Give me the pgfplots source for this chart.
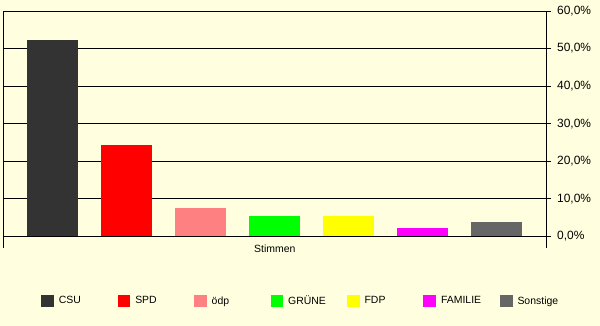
\documentclass[border=0pt]{standalone}
\usepackage{fontspec}
\setmainfont{Liberation Sans}
\usepackage{pgfplots}
\pgfplotsset{compat=1.18}
\definecolor{bg}{HTML}{FFFFE0}
\definecolor{cCSU}{HTML}{333333}
\definecolor{cSPD}{HTML}{FF0000}
\definecolor{cODP}{HTML}{FF8080}
\definecolor{cGRU}{HTML}{00FF00}
\definecolor{cFDP}{HTML}{FFFF00}
\definecolor{cFAM}{HTML}{FF00FF}
\definecolor{cSON}{HTML}{666666}
\newcommand{\lb}[1]{\makebox[58.85bp][l]{#1}}
\begin{document}
\begin{tikzpicture}
\path[use as bounding box, fill=bg] (-3.5bp,-78.5bp) rectangle (596.5bp,247.5bp);
\begin{axis}[
  scale only axis, width=542.5bp, height=236.5bp,
  xmin=-0.6622, xmax=6.6689, ymin=-3, ymax=60,
  separate axis lines,
  x axis line style={draw=none},
  y axis line style={black, line width=1bp},
  xtick=\empty,
  ytick={0,10,20,30,40,50,60},
  yticklabels={{0,0\%},{10,0\%},{20,0\%},{30,0\%},{40,0\%},{50,0\%},{60,0\%}},
  ytick pos=right,
  tick align=outside, major tick length=5bp,
  every tick/.style={black, line width=1bp},
  ymajorgrids, grid style={black, line width=1bp},
  yticklabel style={font=\fontsize{12}{13}\selectfont, anchor=west, inner sep=0pt, xshift=6bp},
  /pgf/number format/assume math mode=true,
  ybar, bar width=51bp, bar shift=0pt,
  xlabel={Stimmen},
  xlabel style={at={(axis description cs:0.5,-0.022)}, anchor=base, font=\fontsize{10.5}{12}\selectfont, inner sep=0pt},
  legend columns=7,
  legend image code/.code={\fill[#1] (0bp,-6.3bp) rectangle (12.6bp,6.3bp);},
  legend style={at={(axis description cs:0.0695,-0.2262)}, anchor=west, draw=none, fill=none,
    inner sep=0pt, outer sep=0pt, font=\fontsize{10.5}{12}\selectfont,
    nodes={inner sep=0pt, outer sep=0pt},
    /tikz/every odd column/.style={column sep=5bp},
    /tikz/every even column/.style={column sep=0pt}},
]
\addplot[fill=cCSU, draw=none] coordinates {(0,52.2)};
\addlegendentry{\lb{CSU}}
\addplot[fill=cSPD, draw=none] coordinates {(1,24.2)};
\addlegendentry{\lb{SPD}}
\addplot[fill=cODP, draw=none] coordinates {(2,7.5)};
\addlegendentry{\lb{ödp}}
\addplot[fill=cGRU, draw=none] coordinates {(3,5.4)};
\addlegendentry{\lb{GRÜNE}}
\addplot[fill=cFDP, draw=none] coordinates {(4,5.3)};
\addlegendentry{\lb{FDP}}
\addplot[fill=cFAM, draw=none] coordinates {(5,2.1)};
\addlegendentry{\lb{FAMILIE}}
\addplot[fill=cSON, draw=none] coordinates {(6,3.9)};
\addlegendentry{Sonstige}
\end{axis}
\end{tikzpicture}
\end{document}
